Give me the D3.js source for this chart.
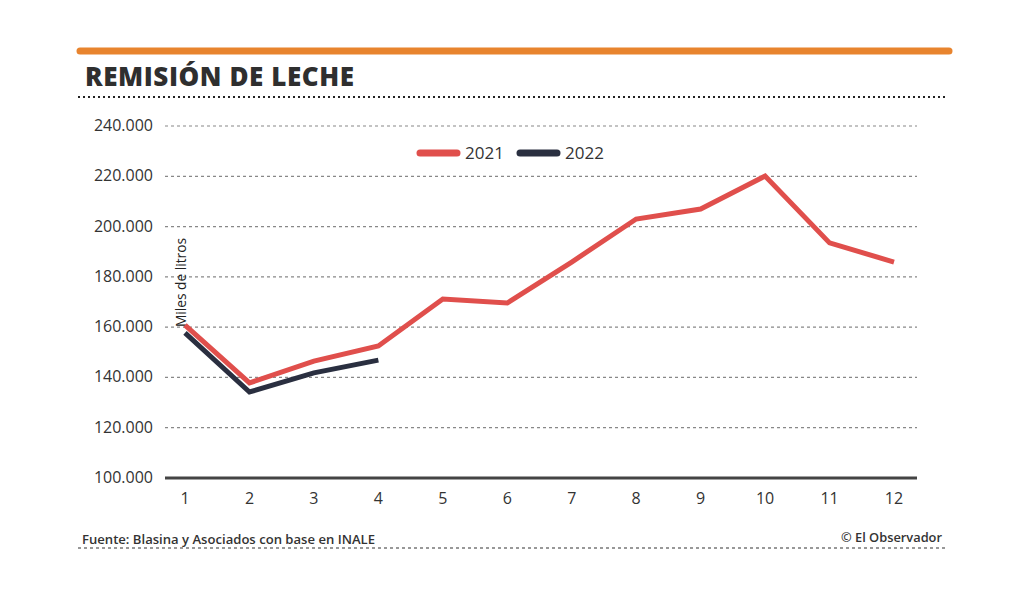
<!DOCTYPE html>
<html>
<head>
<meta charset="utf-8">
<script src="https://cdn.jsdelivr.net/npm/d3@7"></script>
<style>
  body { margin: 0; background: #fff; }
  text { font-family: "Open Sans", sans-serif; }
</style>
</head>
<body>
<script>
const months = [1, 2, 3, 4, 5, 6, 7, 8, 9, 10, 11, 12];
const values2021 = [160800, 137800, 146500, 152500, 171200, 169600, 185900, 203000, 207000, 220100, 193500, 185900];
const values2022 = [157700, 134200, 141800, 146900];
const yTicks = [100000, 120000, 140000, 160000, 180000, 200000, 220000, 240000];
const seriesNames = ["2021", "2022"];
const colors = ["#e04f4c", "#2a2f40"];

const width = 1024, height = 597;
const svg = d3.select("body").append("svg")
  .attr("width", width).attr("height", height);

// header
svg.append("line")
  .attr("x1", 80).attr("x2", 949).attr("y1", 51).attr("y2", 51)
  .attr("stroke", "#e8842e").attr("stroke-width", 7).attr("stroke-linecap", "round");
svg.append("text")
  .attr("x", 85).attr("y", 86)
  .attr("font-size", 26).attr("font-weight", 800)
  .attr("fill", "#2f2f2f")
  .attr("textLength", 269).attr("lengthAdjust", "spacing")
  .text("REMISIÓN DE LECHE");
svg.append("line")
  .attr("x1", 78).attr("x2", 946).attr("y1", 97).attr("y2", 97)
  .attr("stroke", "#222").attr("stroke-width", 2).attr("stroke-dasharray", "2,3");

const x = d3.scaleLinear().domain([1, 12]).range([185, 894]);
const y = d3.scaleLinear().domain([100000, 240000]).range([478, 126]);

// grid
const fmt = d => d3.format(",")(d).replace(/,/g, ".");
svg.append("g").selectAll("line")
  .data(yTicks.slice(1))
  .join("line")
  .attr("x1", 165).attr("x2", 917)
  .attr("y1", d => y(d)).attr("y2", d => y(d))
  .attr("stroke", "#888").attr("stroke-width", 1.2).attr("stroke-dasharray", "3,3");
svg.append("line")
  .attr("x1", 165).attr("x2", 917)
  .attr("y1", y(100000)).attr("y2", y(100000))
  .attr("stroke", "#444").attr("stroke-width", 3);

svg.append("g").selectAll("text")
  .data(yTicks)
  .join("text")
  .attr("x", 153).attr("y", d => y(d) + 5)
  .attr("text-anchor", "end").attr("font-size", 16).attr("fill", "#333")
  .text(fmt);

svg.append("g").selectAll("text")
  .data(months)
  .join("text")
  .attr("x", d => x(d)).attr("y", 504)
  .attr("text-anchor", "middle").attr("font-size", 16).attr("fill", "#333")
  .text(d => d);

svg.append("text")
  .attr("transform", "translate(186,327) rotate(-90)")
  .attr("font-size", 14).attr("fill", "#222")
  .attr("textLength", 89).attr("lengthAdjust", "spacingAndGlyphs")
  .text("Miles de litros");

const line = d3.line().x((d, i) => x(months[i])).y(d => y(d));
[values2021, values2022].forEach((vals, k) => {
  svg.append("path")
    .attr("d", line(vals))
    .attr("fill", "none")
    .attr("stroke", colors[k]).attr("stroke-width", 5)
    .attr("stroke-linejoin", "miter");
});

// legend
const legend = svg.append("g").selectAll("g")
  .data(seriesNames)
  .join("g")
  .attr("transform", (d, i) => `translate(${420 + i * 100},153)`);
legend.append("line")
  .attr("x1", 0).attr("x2", 37)
  .attr("stroke", (d, i) => colors[i]).attr("stroke-width", 7).attr("stroke-linecap", "round");
legend.append("text")
  .attr("x", 45).attr("y", 6)
  .attr("font-size", 17).attr("fill", "#333")
  .text(d => d);

// footer
svg.append("text")
  .attr("x", 82).attr("y", 544)
  .attr("font-size", 13).attr("font-weight", 600).attr("fill", "#333")
  .attr("textLength", 293).attr("lengthAdjust", "spacingAndGlyphs")
  .text("Fuente: Blasina y Asociados con base en INALE");
svg.append("text")
  .attr("x", 942).attr("y", 542)
  .attr("text-anchor", "end")
  .attr("font-size", 13).attr("font-weight", 600).attr("fill", "#333")
  .attr("textLength", 101).attr("lengthAdjust", "spacingAndGlyphs")
  .text("© El Observador");
svg.append("line")
  .attr("x1", 78).attr("x2", 946).attr("y1", 548).attr("y2", 548)
  .attr("stroke", "#333").attr("stroke-width", 1.2).attr("stroke-dasharray", "3,3");
</script>
</body>
</html>
